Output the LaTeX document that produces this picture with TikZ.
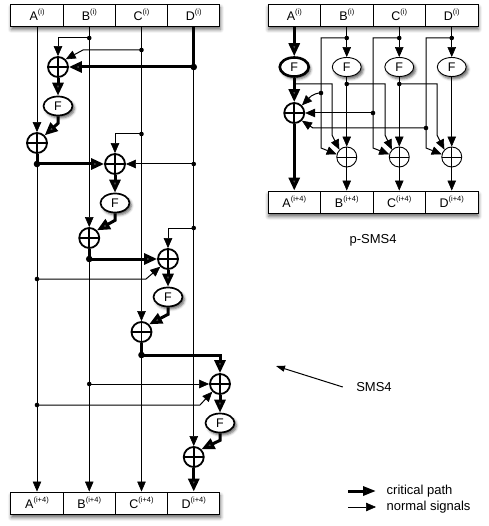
\documentclass[tikz,border=0pt]{standalone}
\usepackage{fontspec}
\setmainfont{Liberation Sans}
\usetikzlibrary{arrows.meta,shapes.geometric,shadows.blur}
\newcommand{\sups}[1]{\raisebox{0.5em}{\fontsize{7.5}{7.5}\selectfont #1}}
\begin{document}
\begin{tikzpicture}[x=1pt,y=-1pt,
  thinl/.style={line width=1pt},
  thickl/.style={line width=3pt},
  tarr/.style={line width=1pt,-{Triangle[length=10pt,width=8.5pt,fill=black,line width=0.6pt]}},
  karr/.style={line width=3pt,-{Triangle[length=13pt,width=11pt]}},
  cell/.style={draw,line width=0.9pt,fill=white,minimum width=52.25pt,minimum height=22pt,inner sep=0pt,font=\fontsize{12.5}{14}\selectfont},
  rcell/.style={cell,minimum width=52.5pt},
  boxshadow/.style={fill=white,blur shadow={shadow xshift=0.5pt,shadow yshift=-3.5pt,shadow blur radius=3.5pt,shadow opacity=60}},
  xorbase/.style={circle,draw,fill=white,minimum size=20pt,inner sep=0pt,
    path picture={\draw[line width=#1] (path picture bounding box.north) -- (path picture bounding box.south) (path picture bounding box.west) -- (path picture bounding box.east);}},
  xork/.style={xorbase=1.8pt,line width=1.8pt},
  xort/.style={xorbase=0.9pt,line width=0.9pt},
  fk/.style={ellipse,draw,fill=white,line width=1.7pt,minimum width=29pt,minimum height=19pt,inner sep=0pt,font=\fontsize{12.5}{12}\selectfont,blur shadow={shadow xshift=2pt,shadow yshift=-2.5pt,shadow blur radius=2.5pt,shadow opacity=60}},
  ft/.style={fk,line width=0.9pt},
  fkk/.style={fk,line width=2.6pt},
  txt/.style={font=\fontsize{13}{13}\selectfont},
]
\useasboundingbox (0,0) rectangle (488,526);

% ---------------- left: SMS4 ----------------
\path[boxshadow] (10.875,4) rectangle (219.875,26);
\node[cell] (tA) at (37,15) {A\sups{(i)}};
\node[cell] (tB) at (89.25,15) {B\sups{(i)}};
\node[cell] (tC) at (141.5,15) {C\sups{(i)}};
\node[cell] (tD) at (193.75,15) {D\sups{(i)}};

\path[boxshadow] (10.875,492) rectangle (219.875,514);
\node[cell] (bA) at (37,503) {A\sups{(i+4)}};
\node[cell] (bB) at (89.25,503) {B\sups{(i+4)}};
\node[cell] (bC) at (141.5,503) {C\sups{(i+4)}};
\node[cell] (bD) at (193.75,503) {D\sups{(i+4)}};

\node[xork] (X1) at (58,67) {};
\node[fk]   (F1) at (58,106) {F};
\node[xork] (X2) at (37,143) {};
\node[xork] (X3) at (115,164) {};
\node[fk]   (F2) at (115,203) {F};
\node[xork] (X4) at (89.25,238) {};
\node[xork] (X5) at (168,259) {};
\node[fk]   (F3) at (168,297) {F};
\node[xork] (X6) at (141.5,332) {};
\node[xork] (X7) at (220,384) {};
\node[fk]   (F4) at (220,423) {F};
\node[xork] (X8) at (193.75,457) {};

\coordinate (jB1) at (89.25,38);
\coordinate (jC1) at (141.5,50);
\coordinate (kC1) at (83,50);
\coordinate (jD1) at (193.75,67);
\coordinate (jA1) at (37,164);
\coordinate (jC2) at (141.5,134);
\coordinate (jD2) at (193.75,164);
\coordinate (jB2) at (89.25,259);
\coordinate (jD3) at (193.75,228);
\coordinate (jA2) at (37,279);
\coordinate (kA2) at (146,279);
\coordinate (jC3) at (141.5,355);
\coordinate (kC3) at (220,355);
\coordinate (jB3) at (89.25,384);
\coordinate (jA3) at (37,405);
\coordinate (kA3) at (200,405);

% critical path
\draw[thickl] (tD.south) -- (jD1);
\draw[karr] (jD1) -- (X1.east);
\draw[karr] (X1.south) -- (F1.north);
\draw[karr] (F1.south) -- ++(0,7) -- (X2.north east);
\draw[karr] (X2.south) -- (jA1) -- (X3.west);
\draw[karr] (X3.south) -- (F2.north);
\draw[karr] (F2.south) -- ++(0,7) -- (X4.north east);
\draw[karr] (X4.south) -- (jB2) -- (X5.west);
\draw[karr] (X5.south) -- (F3.north);
\draw[karr] (F3.south) -- ++(0,7) -- (X6.north east);
\draw[karr] (X6.south) -- (jC3) -- (kC3) -- (X7.north);
\draw[karr] (X7.south) -- (F4.north);
\draw[karr] (F4.south) -- ++(0,7) -- (X8.north east);
\draw[karr] (X8.south) -- (bD.north);

% normal signals
\draw[tarr] (tA.south) -- (X2.north);
\draw[tarr] (jA1) -- (bA.north);
\draw[tarr] (tB.south) -- (X4.north);
\draw[tarr] (jB1) -- (jB1 -| X1) -- (X1.north);
\draw[tarr] (jB2) -- (bB.north);
\draw[tarr] (tC.south) -- (X6.north);
\draw[tarr] (jC1) -- (kC1) -- (X1.north east);
\draw[tarr] (jC2) -- (jC2 -| X3) -- (X3.north);
\draw[tarr] (jC3) -- (bC.north);
\draw[tarr] (jD1) -- (X8.north);
\draw[tarr] (jD2) -- (X3.east);
\draw[tarr] (jD3) -- (jD3 -| X5) -- (X5.north);
\draw[tarr] (jA2) -- (kA2) -- (X5.south west);
\draw[tarr] (jB3) -- (X7.west);
\draw[tarr] (jA3) -- (kA3) -- (X7.south west);

\foreach \j in {jB1,jC1,jC2,jD2,jD3,jA2,jB3,jA3} \fill (\j) circle (2.3);
\foreach \j in {jD1,jA1,jB2,jC3} \fill (\j) circle (3.3);

% ---------------- right: p-SMS4 ----------------
\path[boxshadow] (268,4) rectangle (478,26);
\node[rcell] (rA) at (294.25,15) {A\sups{(i)}};
\node[rcell] (rB) at (346.75,15) {B\sups{(i)}};
\node[rcell] (rC) at (399.25,15) {C\sups{(i)}};
\node[rcell] (rD) at (451.75,15) {D\sups{(i)}};

\path[boxshadow] (268,191) rectangle (478,213);
\node[rcell] (sA) at (294.25,202) {A\sups{(i+4)}};
\node[rcell] (sB) at (346.75,202) {B\sups{(i+4)}};
\node[rcell] (sC) at (399.25,202) {C\sups{(i+4)}};
\node[rcell] (sD) at (451.75,202) {D\sups{(i+4)}};

\node[fkk] (FA) at (294.25,67) {F};
\node[ft]  (FB) at (346.75,67) {F};
\node[ft]  (FC) at (399.25,67) {F};
\node[ft]  (FD) at (451.75,67) {F};

\node[xork] (XA) at (294.25,113) {};
\node[xort] (XB) at (346.75,157) {};
\node[xort] (XC) at (399.25,157) {};
\node[xort] (XD) at (451.75,157) {};

\coordinate (jrB) at (346.75,38);
\coordinate (jrC) at (399.25,38);
\coordinate (jrD) at (451.75,38);
\coordinate (kB) at (321,38);  \coordinate (kB2) at (321,148);
\coordinate (kC) at (373,38);  \coordinate (kC2) at (373,148);
\coordinate (kD) at (426,38);  \coordinate (kD2) at (426,148);
\coordinate (jFA) at (294.25,84);
\coordinate (jFB) at (346.75,84);
\coordinate (jFC) at (399.25,84);
\coordinate (kFA) at (332,84); \coordinate (kFA2) at (332,135);
\coordinate (kFB) at (385,84); \coordinate (kFB2) at (385,135);
\coordinate (kFC) at (437,84); \coordinate (kFC2) at (437,135);
\coordinate (jB93) at (321,93);
\coordinate (jC113) at (373,113);
\coordinate (jD128) at (426,128);
\coordinate (kD128) at (313,128);

\draw[karr] (rA.south) -- (FA.north);
\draw[karr] (FA.south) -- (XA.north);
\draw[karr] (XA.south) -- (sA.north);

\draw[tarr] (rB.south) -- (FB.north);
\draw[tarr] (rC.south) -- (FC.north);
\draw[tarr] (rD.south) -- (FD.north);
\draw[tarr] (FB.south) -- (XB.north);
\draw[tarr] (FC.south) -- (XC.north);
\draw[tarr] (FD.south) -- (XD.north);
\draw[tarr] (XB.south) -- (sB.north);
\draw[tarr] (XC.south) -- (sC.north);
\draw[tarr] (XD.south) -- (sD.north);

\draw[tarr] (jrB) -- (kB) -- (kB2) -- (XB.165);
\draw[tarr] (jrC) -- (kC) -- (kC2) -- (XC.165);
\draw[tarr] (jrD) -- (kD) -- (kD2) -- (XD.165);
\draw[tarr] (jFA) -- (kFA) -- (kFA2) -- (XB.north west);
\draw[tarr] (jFB) -- (kFB) -- (kFB2) -- (XC.north west);
\draw[tarr] (jFC) -- (kFC) -- (kFC2) -- (XD.north west);

\draw[tarr] (jB93) to[out=180,in=45] (XA.north east);
\draw[tarr] (jC113) -- (XA.east);
\draw[tarr] (jD128) -- (kD128) -- (XA.south east);

\foreach \j in {jrB,jrC,jrD,jFB,jFC,jB93,jC113,jD128} \fill (\j) circle (2.3);

\node[txt] (lp) at (373,240) {p-SMS4};

% ---------------- labels and legend ----------------
\node[txt] (ls) at (374,387) {SMS4};
\coordinate (sb) at (276,366);
\draw[line width=1pt,-{Triangle[length=9pt,width=6pt,fill=black]}] ([xshift=-10pt]ls.west) -- (sb);

\coordinate (lg1a) at (348,491); \coordinate (lg1b) at (376,491);
\coordinate (lg2a) at (348,507); \coordinate (lg2b) at (376,507);
\draw[line width=3pt,-{Triangle[length=13pt,width=9pt]}] (lg1a) -- (lg1b);
\draw[tarr] (lg2a) -- (lg2b);
\node[txt,anchor=west,inner sep=0pt] (lg1) at (386.5,491) {critical path};
\node[txt,anchor=west,inner sep=0pt] (lg2) at (386.5,507) {normal signals};
\end{tikzpicture}
\end{document}
